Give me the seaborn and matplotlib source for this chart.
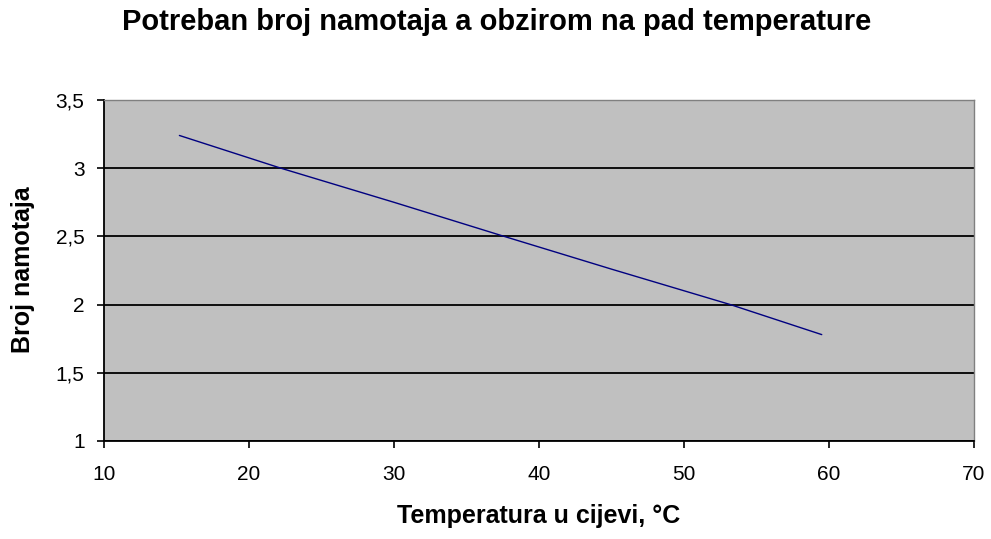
import matplotlib
matplotlib.use("Agg")
import matplotlib.pyplot as plt
import seaborn as sns
import pandas as pd
from matplotlib.ticker import FuncFormatter

temperature = [15.2, 22.2, 30.0, 37.6, 45.0, 53.2, 59.5]
windings = [3.24, 3.00, 2.75, 2.50, 2.26, 2.00, 1.78]
x_ticks = [10, 20, 30, 40, 50, 60, 70]
y_ticks = [1, 1.5, 2, 2.5, 3, 3.5]

title = "Potreban broj namotaja a obzirom na pad temperature"
xlabel = "Temperatura u cijevi, °C"
ylabel = "Broj namotaja"

sns.set_style("white")
plt.rcParams['font.family'] = ['Liberation Sans', 'DejaVu Sans']
plt.rcParams['text.color'] = 'black'

df = pd.DataFrame({"T": temperature, "N": windings})

W, H = 991, 539
fig = plt.figure(figsize=(W / 100, H / 100), dpi=100)
ax = fig.add_axes([104 / W, 1 - 441 / H, 870 / W, 341 / H])
ax.set_facecolor("#C0C0C0")

sns.lineplot(data=df, x="T", y="N", ax=ax, color="#000080", linewidth=1.0)

ax.set_xlim(10, 70)
ax.set_ylim(1, 3.5)
ax.set_xticks(x_ticks)
ax.set_yticks(y_ticks)
ax.yaxis.set_major_formatter(FuncFormatter(lambda v, p: (f"{v:g}").replace(".", ",")))
ax.xaxis.set_major_formatter(FuncFormatter(lambda v, p: f"{v:g}"))
ax.yaxis.grid(True, color="black", linewidth=1.3)
ax.set_axisbelow(True)
ax.tick_params(axis="both", which="major", bottom=True, left=True, direction="out",
               length=5, width=1.2, labelsize=15, colors="black")
ax.tick_params(axis="x", pad=12)
ax.tick_params(axis="y", pad=9)

for s in ["left", "bottom"]:
    ax.spines[s].set_color("black")
    ax.spines[s].set_linewidth(1.3)
for s in ["top", "right"]:
    ax.spines[s].set_color("#808080")
    ax.spines[s].set_linewidth(1.0)

ax.set_xlabel("")
ax.set_ylabel("")
fig.text(539 / W, 1 - 516 / H, xlabel, fontsize=18, fontweight="bold", ha="center", va="center",
         color="black")
fig.text(23 / W, 1 - 270 / H, ylabel, fontsize=18, fontweight="bold", ha="center", va="center",
         rotation=90, color="black")
fig.text(497 / W, 1 - 22 / H, title, fontsize=21, fontweight="bold", ha="center", va="center",
         color="black")

fig.savefig("out.png", dpi=100, facecolor="white")
